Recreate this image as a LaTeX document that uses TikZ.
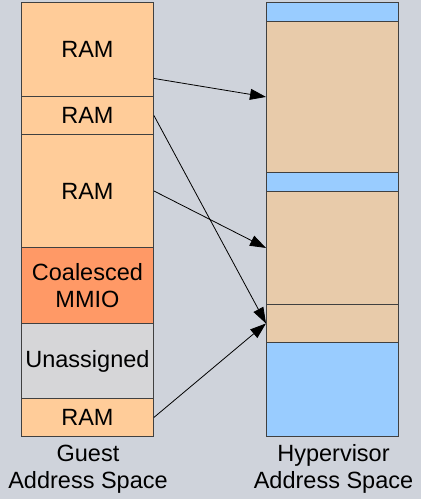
\documentclass[tikz,border=0pt]{standalone}
\usepackage{fontspec}
\setmainfont{Liberation Sans}
\usepackage{xcolor}
\usetikzlibrary{arrows.meta}

\definecolor{bgcol}{HTML}{CFD3DB}
\definecolor{ramcol}{HTML}{FFCC99}
\definecolor{mmiocol}{HTML}{FF9966}
\definecolor{unascol}{HTML}{D6D6D8}
\definecolor{hostcol}{HTML}{E8CBAA}
\definecolor{freecol}{HTML}{99CCFF}

\begin{document}
\begin{tikzpicture}[x=1pt, y=-1pt,
  region/.style={draw=black!75, line width=0.9pt, inner sep=0pt, anchor=north west,
    minimum width=132pt, font=\fontsize{23.5}{27}\selectfont, align=center},
  maparrow/.style={-{Triangle[length=16pt,width=11pt]}, line width=0.8pt, black}]
\fill[bgcol] (0,0) rectangle (421,499);
\useasboundingbox (0,0) rectangle (421,499);
% guest
\node[region, fill=ramcol, minimum height=94pt] (g1) at (21,2) {RAM};
\node[region, fill=ramcol, minimum height=38pt] (g2) at (21,96) {RAM};
\node[region, fill=ramcol, minimum height=113pt] (g3) at (21,134) {RAM};
\node[region, fill=mmiocol, minimum height=76pt] (g4) at (21,247) {Coalesced\\MMIO};
\node[region, fill=unascol, minimum height=75pt] (g5) at (21,323) {Unassigned};
\node[region, fill=ramcol, minimum height=38pt] (g6) at (21,398) {RAM};
% hypervisor
\node[region, fill=freecol, minimum height=19pt] (h1) at (266,2) {};
\node[region, fill=hostcol, minimum height=151pt] (h2) at (266,21) {};
\node[region, fill=freecol, minimum height=19pt] (h3) at (266,172) {};
\node[region, fill=hostcol, minimum height=113pt] (h4) at (266,191) {};
\node[region, fill=hostcol, minimum height=38pt] (h5) at (266,304) {};
\node[region, fill=freecol, minimum height=94pt] (h6) at (266,342) {};
% labels
\node[font=\fontsize{23.5}{27}\selectfont, align=center] (guest) at (88,469) {Guest\\Address Space};
\node[font=\fontsize{23.5}{27}\selectfont, align=center] (hyper) at (333.5,469) {Hypervisor\\Address Space};
% mappings
\draw[maparrow] ([yshift=-29pt]g1.east) -- (h2.west);
\draw[maparrow] (g2.east) -- (h5.west);
\draw[maparrow] (g3.east) -- (h4.west);
\draw[maparrow] (g6.east) -- (h5.west);
\end{tikzpicture}
\end{document}
